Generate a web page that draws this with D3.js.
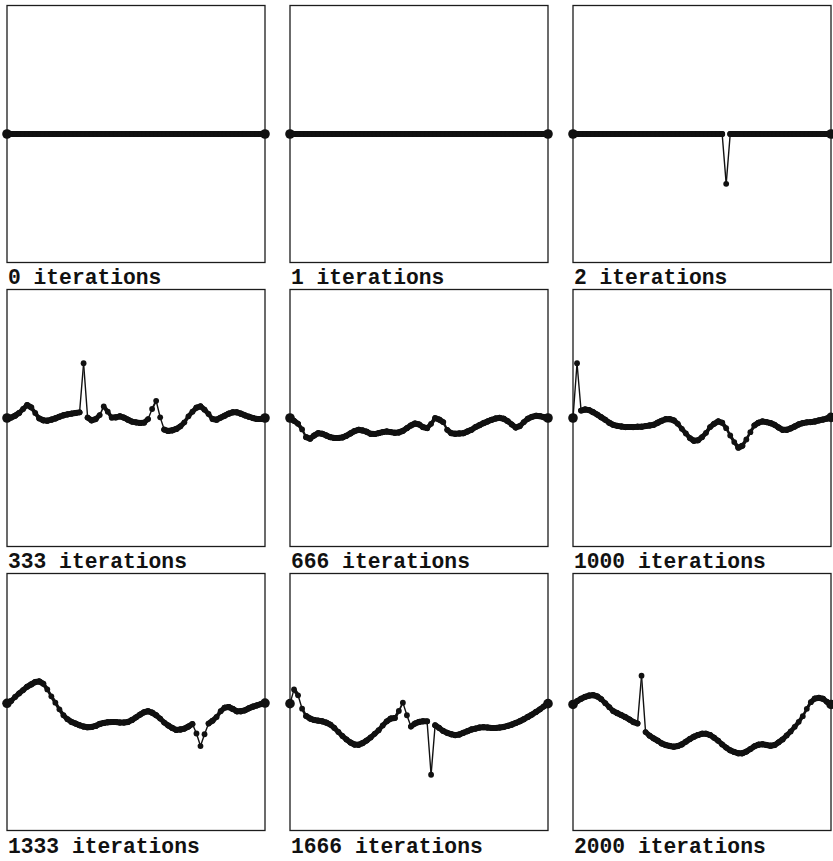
<!DOCTYPE html>
<html>
<head>
<meta charset="utf-8">
<script src="https://cdn.jsdelivr.net/npm/d3@7"></script>
<style>
  html, body { margin: 0; padding: 0; background: #fff; }
  svg { display: block; }
</style>
</head>
<body>
<svg id="chart" width="833" height="861"></svg>
<script>
// Curve samples: 65 evenly spaced points, height in percent of the half range
const pointIndex = d3.range(65);
const iterations = [0, 1, 2, 333, 666, 1000, 1333, 1666, 2000];

const curve0 = [0,0,0,0,0,0,0,0,0,0,0,0,0,0,0,0,0,0,0,0,0,0,0,0,0,0,0,0,0,0,0,0,0,0,0,0,0,0,0,0,0,0,0,0,0,0,0,0,0,0,0,0,0,0,0,0,0,0,0,0,0,0,0,0,0];
const curve1 = [0,0,0,0,0,0,0,0,0,0,0,0,0,0,0,0,0,0,0,0,0,0,0,0,0,0,0,0,0,0,0,0,0,0,0,0,0,0,0,0,0,0,0,0,0,0,0,0,0,0,0,0,0,0,0,0,0,0,0,0,0,0,0,0,0];
const curve2 = [0,0,0,0,0,0,0,0,0,0,0,0,0,0,0,0,0,0,0,0,0,0,0,0,0,0,0,0,0,0,0,0,0,0,0,0,0,0,-38.8,0,0,0,0,0,0,0,0,0,0,0,0,0,0,0,0,0,0,0,0,0,0,0,0,0,0];
const curve333 = [0,0.3,1.8,3.9,7.0,10.1,8.3,3.9,-0.3,-1.8,-2.1,-1.3,-0.3,1.0,2.1,2.8,3.4,3.9,4.4,42.6,0.3,-1.8,-0.8,2.3,9.0,4.9,0.3,0.5,1.3,0.3,-1.3,-2.8,-3.4,-3.9,-3.6,-0.8,7.0,13.4,0.5,-9.0,-10.1,-9.6,-8.5,-6.5,-3.4,1.3,4.9,8.0,9.0,6.5,3.1,-0.8,-1.3,0.3,1.8,3.4,4.4,4.4,3.4,2.1,1.0,0,-0.8,-0.8,0];
const curve666 = [0,-2.2,-4.5,-8.9,-14.9,-16.1,-13.6,-11.8,-12.3,-13.6,-14.9,-15.6,-15.6,-15.1,-13.8,-12.0,-10.2,-9.2,-9.7,-10.7,-12.3,-12.5,-11.8,-11.0,-10.5,-11.0,-11.5,-11.2,-10.0,-7.9,-5.8,-4.3,-5.0,-7.1,-7.9,-4.5,-0.1,-1.2,-3.2,-9.2,-11.8,-12.3,-12.0,-11.8,-10.5,-9.2,-7.1,-5.6,-4.0,-2.7,-1.4,-0.4,0.1,-0.6,-2.5,-5.0,-7.4,-6.3,-3.2,-0.6,0.9,1.7,1.4,0.6,0];
const curve1000 = [0,42.6,5.8,6.6,6.1,4.5,2.7,0.6,-1.4,-3.7,-5.3,-6.1,-6.6,-7.1,-7.1,-7.1,-6.8,-6.8,-6.3,-5.8,-5.3,-3.7,-2.2,-0.9,-0.9,-1.9,-4.5,-8.4,-12.0,-15.6,-17.7,-17.4,-14.9,-11.5,-7.1,-4.5,-2.7,-3.7,-7.9,-13.6,-18.7,-23.1,-21.6,-16.7,-11.0,-5.8,-3.7,-2.7,-3.2,-4.0,-5.3,-7.4,-9.2,-9.2,-8.1,-6.6,-5.0,-4.0,-3.4,-3.2,-2.7,-1.9,-1.2,-0.4,0.5];
const curve1333 = [-1.0,0.8,3.9,6.7,9.3,11.9,13.7,15.5,16.0,14.2,9.8,4.4,-0.5,-5.7,-10.3,-13.4,-15.5,-16.8,-18.1,-19.1,-19.6,-19.4,-18.6,-17.1,-16.3,-15.8,-15.5,-15.5,-16.0,-16.0,-15.5,-14.0,-11.9,-9.8,-8.0,-7.2,-8.3,-10.3,-12.9,-16.0,-18.3,-20.2,-21.7,-21.4,-20.7,-19.1,-17.1,-24.5,-34.3,-25.1,-16.8,-14.5,-11.6,-7.2,-4.4,-3.9,-5.4,-7.2,-7.2,-6.5,-4.9,-3.6,-2.6,-1.6,-0.8];
const curve1666 = [-1.3,9.8,5.2,-5.2,-10.9,-12.9,-14.0,-14.5,-15.0,-16.0,-17.6,-20.2,-23.3,-26.4,-29.2,-31.5,-33.1,-33.3,-32.0,-30.0,-27.6,-24.8,-22.0,-18.3,-15.0,-12.9,-12.4,-7.0,-0.5,-10.3,-19.1,-16.8,-15.5,-15.0,-15.0,-56.6,-18.1,-20.2,-22.5,-24.0,-25.1,-25.8,-25.3,-24.0,-22.7,-21.4,-20.7,-19.9,-19.6,-19.9,-20.2,-20.2,-19.9,-19.4,-18.6,-17.6,-16.3,-15.0,-13.4,-11.6,-9.8,-7.8,-5.7,-3.4,-1.3];
const curve2000 = [-1.9,0.6,2.5,4.0,5.0,5.3,4.3,2.2,-0.9,-4.0,-7.1,-8.7,-10.2,-11.8,-13.6,-15.6,-16.7,20.5,-23.4,-26.2,-28.3,-30.1,-32.2,-33.5,-34.2,-34.8,-34.2,-33.0,-30.9,-28.8,-27.0,-25.7,-24.7,-24.7,-25.7,-27.8,-30.1,-33.0,-35.5,-37.6,-38.9,-39.9,-39.9,-38.6,-36.6,-34.5,-33.2,-32.9,-33.5,-34.0,-33.5,-31.4,-29.1,-26.0,-22.9,-19.3,-15.4,-11.0,-5.3,-0.1,2.7,3.2,2.5,0.1,-1.9];

const curves = [curve0, curve1, curve2, curve333, curve666, curve1000, curve1333, curve1666, curve2000];

// Panel grid layout
const panelW = 258, panelH = 257;
const colX = d3.scaleLinear().domain([0, 1]).range([7, 290]);
const rowY = d3.scaleLinear().domain([0, 1]).range([5.5, 289.5]);

const x = d3.scaleLinear().domain([0, pointIndex.length - 1]).range([0, panelW]);
const y = d3.scaleLinear().domain([-100, 100]).range([panelH, 0]);

const svg = d3.select("#chart");
svg.append("rect").attr("width", 833).attr("height", 861).attr("fill", "#fff");

const ink = "#111";

curves.forEach((vals, k) => {
  const col = k % 3, row = Math.floor(k / 3);
  const g = svg.append("g")
    .attr("transform", `translate(${colX(col)},${rowY(row)})`);

  g.append("rect")
    .attr("width", panelW).attr("height", panelH)
    .attr("fill", "none").attr("stroke", "#1c1c1c").attr("stroke-width", 1.3);

  const pts = pointIndex.map(i => [x(i), y(vals[i])]);

  // Segments: tightly packed points read as a heavy band, stretched ones as thin lines
  const segs = d3.pairs(pts);
  g.selectAll("line.seg").data(segs).join("line")
    .attr("class", "seg")
    .attr("x1", d => d[0][0]).attr("y1", d => d[0][1])
    .attr("x2", d => d[1][0]).attr("y2", d => d[1][1])
    .attr("stroke", ink)
    .attr("stroke-linecap", "round")
    .attr("stroke-width", d => {
      const len = Math.hypot(d[1][0] - d[0][0], d[1][1] - d[0][1]);
      return Math.max(1.4, Math.min(6, 6 - (len - 4.6) * 0.9));
    });

  g.selectAll("circle.pt").data(pts).join("circle")
    .attr("class", "pt")
    .attr("cx", d => d[0]).attr("cy", d => d[1])
    .attr("r", (d, i) => (i === 0 || i === pts.length - 1) ? 4.8 : 2.9)
    .attr("fill", ink);

  g.append("text")
    .attr("x", 1).attr("y", panelH + 21 + row * 0.8)
    .attr("font-family", "'Liberation Mono', 'DejaVu Sans Mono', monospace")
    .attr("font-size", 21.3)
    .attr("font-weight", "bold")
    .attr("fill", ink)
    .text(`${iterations[k]} iterations`);
});
</script>
</body>
</html>
